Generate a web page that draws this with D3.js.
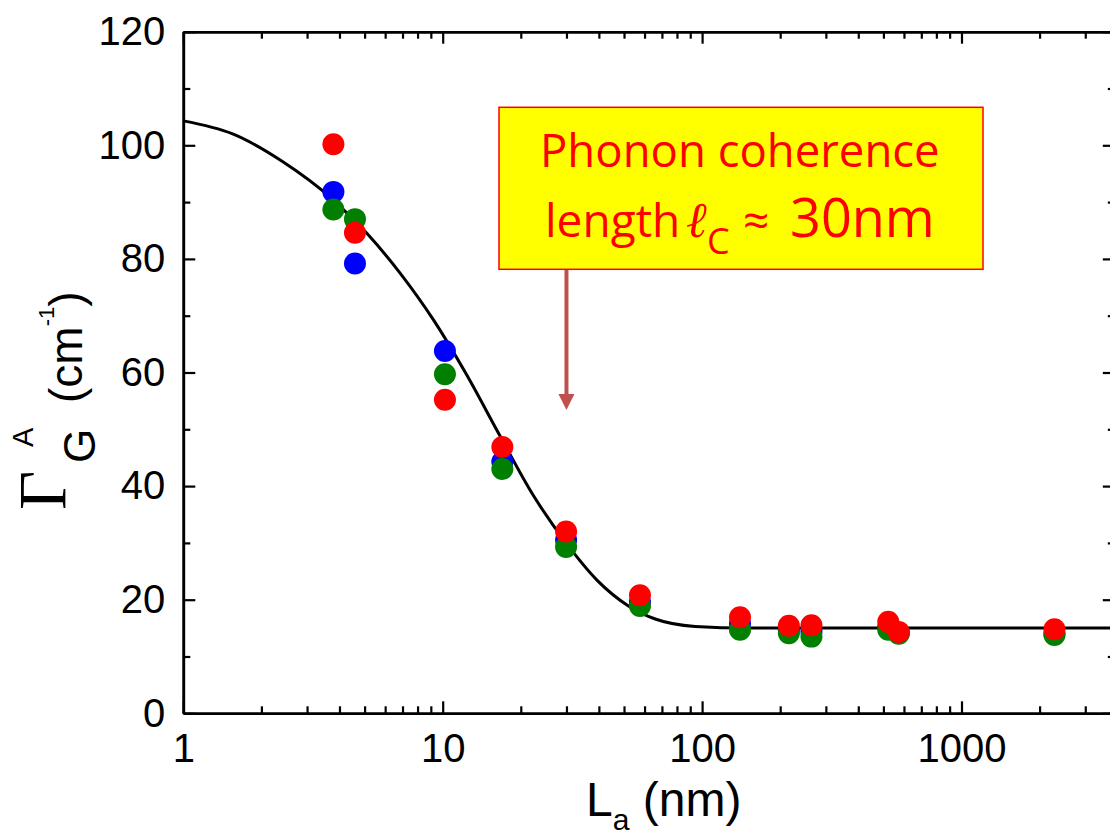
<!DOCTYPE html>
<html>
<head>
<meta charset="utf-8">
<script src="https://cdn.jsdelivr.net/npm/d3@7"></script>
<style>
  body { margin: 0; background: #fff; }
  svg { display: block; }
</style>
</head>
<body>
<div class="container"></div>
<script>
const width = 1110;
const height = 836;
const margin = { top: 31.7, bottom: 122.7, left: 183.3, right: -5 }

// measured points, L_a in nm
const La = [3.79, 4.59, 10.2, 16.98, 29.9, 57.6, 140, 216, 264, 522, 573, 2282];
const gammaBlue = [91.8, 79.2, 63.8, 44.3, 30.5, 19.6, 15.8, 14.6, 14.4, 15.2, 14.2, 14.0];
const gammaGreen = [88.7, 87.0, 59.7, 43.0, 29.3, 18.9, 14.7, 14.1, 13.5, 14.7, 14.0, 13.8];
const gammaRed = [100.2, 84.6, 55.2, 46.9, 32.0, 20.8, 16.9, 15.4, 15.5, 16.1, 14.3, 14.8];

// fitted curve
const fitLa = [1, 1.55, 2.42, 3.76, 5.1, 6.85, 9.2, 12.4, 16.6, 22.4, 30, 39.4, 52, 66, 94, 150, 300, 1000, 3900];
const fitGamma = [104.3, 102.0, 97.1, 90.5, 84.5, 77.5, 69.3, 59.5, 48.9, 38.3, 29.9, 23.4, 18.9, 16.6, 15.3, 15.0, 15.0, 15.0, 15.0];

const xMajor = [1, 10, 100, 1000];
const yMajor = [0, 20, 40, 60, 80, 100, 120];
const yMinor = [10, 30, 50, 70, 90, 110];

const svg = d3.select(".container")
    .append("svg")
    .attr("width", width)
    .attr("height", height)
    .style("font-family", "'Liberation Sans', Arial, sans-serif");

const x = d3.scaleLog()
    .domain([1, 3900])
    .range([margin.left, margin.left + 259.4 * Math.log10(3900)]);

const y = d3.scaleLinear()
    .domain([0, 120])
    .range([713.3, margin.top]);

const xMinor = [];
for (let k = 0; k < 4; k++) {
    for (let m = 2; m <= 9; m++) {
        const v = m * Math.pow(10, k);
        if (v < 3900) xMinor.push(v);
    }
}

const x0 = x.range()[0], x1 = x.range()[1];
const y0 = y.range()[0], y1 = y.range()[1];

function styleAxis(g) {
    g.select(".domain").attr("stroke-width", 2.6);
    g.selectAll(".tick line").attr("stroke-width", 2.2);
    g.selectAll(".tick text").attr("font-size", 40).attr("fill", "#000");
}

// bottom
svg.append("g")
    .attr("transform", `translate(0,${y0})`)
    .call(d3.axisBottom(x).tickValues(xMajor).tickFormat(d3.format("d")).tickSize(-12).tickSizeOuter(0).tickPadding(20))
    .call(styleAxis);
svg.append("g")
    .attr("transform", `translate(0,${y0})`)
    .call(d3.axisBottom(x).tickValues(xMinor).tickFormat("").tickSize(-7).tickSizeOuter(0))
    .call(styleAxis);

// top
svg.append("g")
    .attr("transform", `translate(0,${y1})`)
    .call(d3.axisTop(x).tickValues(xMajor).tickFormat("").tickSize(-12).tickSizeOuter(0))
    .call(styleAxis);
svg.append("g")
    .attr("transform", `translate(0,${y1})`)
    .call(d3.axisTop(x).tickValues(xMinor).tickFormat("").tickSize(-7).tickSizeOuter(0))
    .call(styleAxis);

// left
svg.append("g")
    .attr("transform", `translate(${x0},0)`)
    .call(d3.axisLeft(y).tickValues(yMajor).tickSize(-12).tickSizeOuter(0).tickPadding(18))
    .call(styleAxis);
svg.append("g")
    .attr("transform", `translate(${x0},0)`)
    .call(d3.axisLeft(y).tickValues(yMinor).tickFormat("").tickSize(-7).tickSizeOuter(0))
    .call(styleAxis);

// right
svg.append("g")
    .attr("transform", `translate(${x1},0)`)
    .call(d3.axisRight(y).tickValues(yMajor).tickFormat("").tickSize(-12).tickSizeOuter(0))
    .call(styleAxis);
svg.append("g")
    .attr("transform", `translate(${x1},0)`)
    .call(d3.axisRight(y).tickValues(yMinor).tickFormat("").tickSize(-7).tickSizeOuter(0))
    .call(styleAxis);

// fit curve
const fit = fitLa.map((d, i) => [d, fitGamma[i]]);
const line = d3.line()
    .x(d => x(d[0]))
    .y(d => y(d[1]))
    .curve(d3.curveMonotoneX);
svg.append("path")
    .datum(fit)
    .attr("fill", "none")
    .attr("stroke", "#000")
    .attr("stroke-width", 3)
    .attr("d", line);

// data points: blue under green under red
const series = [
    { color: "#0000ff", values: gammaBlue },
    { color: "#007f00", values: gammaGreen },
    { color: "#ff0000", values: gammaRed }
];
series.forEach(s => {
    svg.append("g")
        .selectAll("circle")
        .data(La.map((d, i) => [d, s.values[i]]))
        .join("circle")
        .attr("cx", d => x(d[0]))
        .attr("cy", d => y(d[1]))
        .attr("r", 11)
        .attr("fill", s.color);
});

// annotation box
svg.append("rect")
    .attr("x", 499)
    .attr("y", 107.3)
    .attr("width", 484)
    .attr("height", 162)
    .attr("fill", "#ffff00")
    .attr("stroke", "#ff0000")
    .attr("stroke-width", 1.5);

const note = svg.append("g")
    .attr("fill", "#ff0000")
    .style("font-family", "'Open Sans', sans-serif");
note.append("text")
    .attr("x", 540)
    .attr("y", 167.3)
    .attr("font-size", 45.5)
    .text("Phonon coherence");
note.append("text")
    .attr("x", 545)
    .attr("y", 236.7)
    .attr("font-size", 46)
    .text("length");
note.append("text")
    .attr("x", 686)
    .attr("y", 236.7)
    .attr("font-size", 50)
    .attr("font-style", "italic")
    .style("font-family", "'DejaVu Serif', serif")
    .text("ℓ");
note.append("text")
    .attr("x", 707)
    .attr("y", 254)
    .attr("font-size", 36)
    .text("C");
note.append("text")
    .attr("x", 743)
    .attr("y", 236.7)
    .attr("font-size", 46)
    .text("≈");
note.append("text")
    .attr("x", 790)
    .attr("y", 236.7)
    .attr("font-size", 54)
    .text("30nm");

// arrow pointing at 30 nm
const ax = x(30);
svg.append("line")
    .attr("x1", ax).attr("x2", ax)
    .attr("y1", 270).attr("y2", 396)
    .attr("stroke", "#c0504d")
    .attr("stroke-width", 4);
svg.append("path")
    .attr("d", `M${ax - 8},394 L${ax + 8},394 L${ax},410 Z`)
    .attr("fill", "#c0504d");

// x axis title
const xt = svg.append("text")
    .attr("x", 586)
    .attr("y", 816)
    .attr("font-size", 48);
xt.append("tspan").text("L");
xt.append("tspan").attr("font-size", 30).attr("dy", 14).text("a");
xt.append("tspan").attr("dy", -14).text(" (nm)");

// y axis title
const yt = svg.append("g")
    .attr("transform", "rotate(-90)");
yt.append("text")
    .attr("x", -510).attr("y", 65)
    .attr("font-size", 68)
    .style("font-family", "'Liberation Serif', 'Times New Roman', serif")
    .text("Γ");
yt.append("text")
    .attr("x", -447).attr("y", 33)
    .attr("font-size", 29)
    .text("A");
yt.append("text")
    .attr("x", -463).attr("y", 95)
    .attr("font-size", 44)
    .text("G");
const yl = yt.append("text")
    .attr("x", -403).attr("y", 82)
    .attr("font-size", 46);
yl.append("tspan").text("(cm");
yl.append("tspan").attr("font-size", 22).attr("dy", -28).text("-1");
yl.append("tspan").attr("dy", 28).text(")");
</script>
</body>
</html>
